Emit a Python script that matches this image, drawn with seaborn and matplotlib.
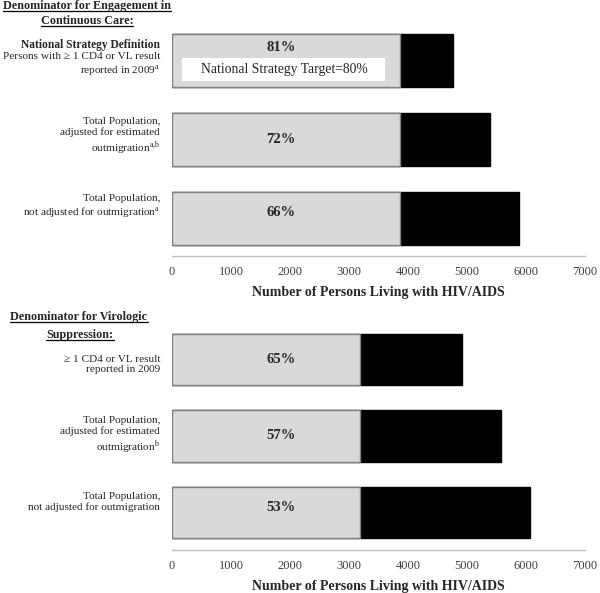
import matplotlib
matplotlib.use("Agg")
from matplotlib import pyplot as plt
from matplotlib.lines import Line2D
from matplotlib.patches import Rectangle
import seaborn as sns
import pandas as pd

# top panel: engagement in continuous care
care_labels = ["National Strategy Definition", "Total Population, adjusted", "Total Population, not adjusted"]
care_engaged = [3860, 3860, 3860]
care_total = [4760, 5390, 5880]
care_pct = ["81%", "72%", "66%"]

# bottom panel: virologic suppression
supp_labels = ["CD4 or VL result", "Total Population, adjusted", "Total Population, not adjusted"]
supp_suppressed = [3190, 3190, 3190]
supp_total = [4910, 5580, 6070]
supp_pct = ["65%", "57%", "53%"]

xticks = [0, 1000, 2000, 3000, 4000, 5000, 6000, 7000]
xlabel = "Number of Persons Living with HIV/AIDS"
target_text = "National Strategy Target=80%"

care_text = [
    "Persons with \u2265 1 CD4 or VL result\nreported in 2009$^{\\mathrm{a}}$",
    "Total Population,\nadjusted for estimated\noutmigration$^{\\mathrm{a{,}b}}$",
    "Total Population,\nnot adjusted for outmigration$^{\\mathrm{a}}$",
]
supp_text = [
    "\u2265 1 CD4 or VL result\nreported in 2009",
    "Total Population,\nadjusted for estimated\noutmigration$^{\\mathrm{b}}$",
    "Total Population,\nnot adjusted for outmigration",
]

# small vertical nudges (in bar units) for the side labels and percents
care_label_dy = [0.06, -0.03, -0.14]
supp_label_dy = [0.07, 0.0, -0.14]
care_pct_dy = [-0.16, 0.0, -0.07]
supp_pct_dy = [0.0, 0.0, -0.07]

sns.set_theme(style="white")
plt.rcParams["font.family"] = ["Liberation Serif", "DejaVu Serif"]
plt.rcParams["mathtext.fontset"] = "custom"
plt.rcParams["mathtext.rm"] = "Liberation Serif"

GRAY = "#d9d9d9"

fig = plt.figure(figsize=(6, 5.93), dpi=100)
ax1 = fig.add_axes([0.2867, 0.5683, 0.688, 0.396])
ax2 = fig.add_axes([0.2867, 0.0725, 0.688, 0.386])


def draw_panel(ax, labels, part, total, pct, texts, ybottom, label_dy, pct_dy):
    df = pd.DataFrame({"label": labels, "part": part, "total": total})
    sns.barplot(data=df, x="total", y="label", color="black", edgecolor="black",
                width=0.67, orient="h", ax=ax, saturation=1)
    sns.barplot(data=df, x="part", y="label", color=GRAY, edgecolor="#808080",
                linewidth=1, width=0.67, orient="h", ax=ax, saturation=1)
    ax.set_xlim(0, 7000)
    ax.set_ylim(ybottom, -0.5)
    ax.set_xticks(xticks)
    ax.set_xticklabels([str(t) for t in xticks], fontsize=9, color="#404040")
    ax.tick_params(axis="x", length=0, pad=7)
    ax.set_yticks([])
    ax.set_ylabel("")
    ax.set_xlabel(xlabel, fontsize=10, fontweight="bold", labelpad=6)
    for s in ["top", "right", "left"]:
        ax.spines[s].set_visible(False)
    ax.spines["bottom"].set_color("#bfbfbf")
    ax.spines["bottom"].set_linewidth(1)
    for i, p in enumerate(pct):
        ax.text(1850, i + pct_dy[i], p, ha="center", va="center", fontsize=10.5,
                fontweight="bold")
    trans = ax.get_yaxis_transform()
    for i, t in enumerate(texts):
        ax.text(-0.029, i + label_dy[i], t, transform=trans, ha="right", va="center",
                fontsize=8.1, linespacing=1.2)


draw_panel(ax1, care_labels, care_engaged, care_total, care_pct, care_text, 2.48,
           care_label_dy, care_pct_dy)
draw_panel(ax2, supp_labels, supp_suppressed, supp_total, supp_pct, supp_text, 2.49,
           supp_label_dy, supp_pct_dy)

# first bar of the top panel: bold heading and the target box
trans = ax1.get_yaxis_transform()
ax1.text(-0.029, -0.2, "National Strategy Definition", transform=trans, ha="right",
         va="center", fontsize=8.3, fontweight="bold")
ax1.add_patch(Rectangle((170, -0.03), 3440, 0.29, facecolor="white", edgecolor="none", zorder=3))
ax1.text(1900, 0.115, target_text, ha="center", va="center", fontsize=9.8, zorder=4)

# underlined section headings
heads = [
    ("Denominator for Engagement in", 87, 6),
    ("Continuous Care:", 87, 21),
    ("Denominator for Virologic", 79, 317),
    ("Suppression:", 80, 335),
]
fig.canvas.draw()
renderer = fig.canvas.get_renderer()
for txt, px, py in heads:
    t = fig.text(px / 600, 1 - py / 593, txt, ha="center", va="center",
                 fontsize=8.7, fontweight="bold")
    bb = t.get_window_extent(renderer)
    y = (bb.y0 + 1) / fig.bbox.height
    fig.add_artist(Line2D([bb.x0 / fig.bbox.width, bb.x1 / fig.bbox.width], [y, y],
                          transform=fig.transFigure, color="black", linewidth=0.9))

fig.savefig("out.png", dpi=100)
